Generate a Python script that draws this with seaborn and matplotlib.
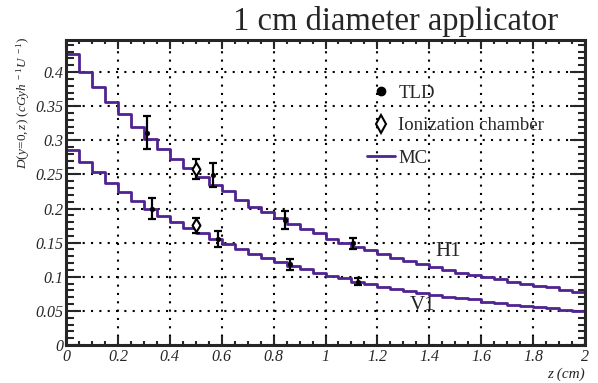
import numpy as np
import pandas as pd
import matplotlib
matplotlib.use("Agg")
import matplotlib.pyplot as plt
import seaborn as sns
from matplotlib.lines import Line2D
from matplotlib.ticker import MultipleLocator, FuncFormatter

# MC dose per 0.05 cm bin, z from 0 to 2 cm
bin_edges = list(np.linspace(0, 2, 41))
mc_h1 = [0.426, 0.400, 0.378, 0.356, 0.338, 0.319, 0.302, 0.287, 0.272, 0.260,
         0.246, 0.234, 0.225, 0.212, 0.202, 0.195, 0.186, 0.177, 0.170, 0.164,
         0.155, 0.150, 0.144, 0.139, 0.133, 0.128, 0.123, 0.119, 0.114, 0.110,
         0.106, 0.103, 0.100, 0.096, 0.093, 0.090, 0.087, 0.0845, 0.081, 0.078]
mc_v1 = [0.286, 0.268, 0.254, 0.238, 0.224, 0.2115, 0.200, 0.189, 0.180, 0.171,
         0.164, 0.155, 0.1475, 0.140, 0.133, 0.127, 0.122, 0.116, 0.111, 0.105,
         0.1016, 0.098, 0.093, 0.089, 0.0855, 0.082, 0.0796, 0.0767, 0.0733, 0.071,
         0.069, 0.067, 0.0635, 0.061, 0.0586, 0.057, 0.055, 0.0537, 0.0513, 0.050]

# measurements
tld_z = [0.311, 0.565, 0.844, 1.105, 0.333, 0.587, 0.863, 1.126]
tld_d = [0.311, 0.249, 0.183, 0.149, 0.200, 0.155, 0.118, 0.093]
tld_err = [0.024, 0.018, 0.013, 0.0085, 0.016, 0.0115, 0.0085, 0.005]
ic_z = [0.500, 0.500]
ic_d = [0.2574, 0.1758]
ic_err = [0.0145, 0.011]

purple = "#4f2391"

sns.set_style("ticks")
plt.rcParams["font.family"] = ["Liberation Serif", "DejaVu Serif"]
plt.rcParams["mathtext.fontset"] = "custom"
plt.rcParams["mathtext.rm"] = "Liberation Serif"
plt.rcParams["mathtext.it"] = "Liberation Serif:italic"

fig = plt.figure(figsize=(5.98, 3.83), dpi=100)
ax = fig.add_axes([0.1104, 0.0992, 0.8679, 0.7964])

centers = [(a + b) / 2 for a, b in zip(bin_edges[:-1], bin_edges[1:])]
for vals in (mc_h1, mc_v1):
    df = pd.DataFrame({"z": centers, "dose": vals})
    sns.histplot(data=df, x="z", weights="dose", bins=bin_edges, element="step",
                 fill=False, color=purple, linewidth=2, ax=ax)

ax.errorbar(tld_z, tld_d, yerr=tld_err, fmt="none", ecolor="black",
            elinewidth=1.6, capsize=3, capthick=1.6, zorder=4)
ax.errorbar(ic_z, ic_d, yerr=ic_err, fmt="none", ecolor="black",
            elinewidth=1.6, capsize=3, capthick=1.6, zorder=4)
sns.scatterplot(x=tld_z, y=tld_d, marker="o", color="black", s=12,
                edgecolor="black", ax=ax, zorder=5)
sns.scatterplot(x=ic_z, y=ic_d, marker="d", s=45, facecolor="white",
                edgecolor="black", linewidth=1.5, ax=ax, zorder=5)

ax.set_xlim(0, 2)
ax.set_ylim(0, 0.447)
ax.xaxis.set_major_locator(MultipleLocator(0.2))
ax.xaxis.set_minor_locator(MultipleLocator(0.05))
ax.yaxis.set_major_locator(MultipleLocator(0.05))
ax.yaxis.set_minor_locator(MultipleLocator(0.01))
fmt = FuncFormatter(lambda v, p: "%g" % round(v, 3))
ax.xaxis.set_major_formatter(fmt)
ax.yaxis.set_major_formatter(fmt)

ax.grid(True, which="major", color="black", linestyle=(0, (1, 3)), linewidth=1.5)
for s in ax.spines.values():
    s.set_linewidth(2.2)
    s.set_visible(True)
ax.tick_params(which="both", direction="in", top=True, right=True, width=1.5,
               labelsize=11.5)
ax.tick_params(axis="x", which="major", length=6.5, pad=3)
ax.tick_params(axis="x", which="minor", length=3.2)
ax.tick_params(axis="y", which="major", length=10.8, pad=2)
ax.tick_params(axis="y", which="minor", length=5.4)
for lab in ax.get_xticklabels() + ax.get_yticklabels():
    lab.set_fontstyle("italic")

ax.set_ylabel(r"$D(y\!=\!0,z)\ (cGyh^{\ -1}U^{\ -1})$", fontsize=9.5, loc="top")
ax.yaxis.set_label_coords(-0.066, 1.01)
ax.set_xlabel("z (cm)", fontsize=11, style="italic", loc="right", labelpad=2)

ax.text(1.422, 0.1367, "H1", fontsize=15, va="center", ha="left")
ax.text(1.326, 0.0586, "V1", fontsize=15, va="center", ha="left")

fig.text(0.662, 0.945, "1 cm diameter applicator", fontsize=23.5,
         ha="center", va="center")

handles = [
    Line2D([], [], linestyle="none", marker="o", color="black", markersize=6),
    Line2D([], [], linestyle="none", marker="d", markerfacecolor="white",
           markeredgecolor="black", markeredgewidth=1.5, markersize=9),
    Line2D([], [], color=purple, linewidth=2),
]
ax.legend(handles, ["TLD", "Ionization chamber", "MC"], loc="upper left",
          bbox_to_anchor=(0.58, 0.853), frameon=False, fontsize=13.5,
          borderpad=0, borderaxespad=0, handlelength=1.5, handletextpad=0.17,
          labelspacing=0.82)

fig.savefig("out.png", dpi=100)
